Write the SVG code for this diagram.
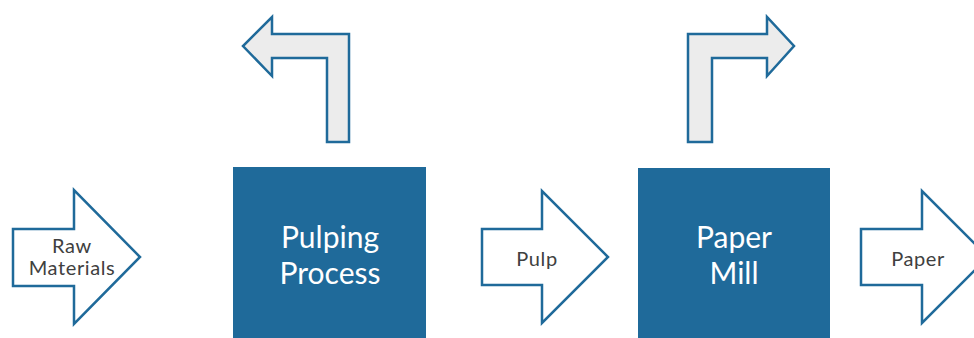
<svg xmlns="http://www.w3.org/2000/svg" width="974" height="338" viewBox="0 0 974 338">
<style>
.flow{fill:#ffffff;stroke:#1f6a9a;stroke-width:2.5;stroke-linejoin:miter}
.side{fill:#ececec;stroke:#1f6a9a;stroke-width:2.5;stroke-linejoin:miter}
.box{fill:#1f6a9a}
.lbl{font-family:Lato,"Open Sans",sans-serif;font-size:20px;letter-spacing:0.6px;fill:#404040;text-anchor:middle}
.big{font-family:Lato,"Open Sans",sans-serif;font-size:30px;fill:#ffffff;text-anchor:middle}
</style>
<rect width="974" height="338" fill="#ffffff"/>
<g id="connectors">
<g id="raw-materials">
<polygon class="flow" points="13,229 74,229 74,190 140,257 74,324 74,286 13,286"/>
<text class="lbl" x="72" y="253">Raw</text>
<text class="lbl" x="72" y="275">Materials</text>
</g>
<g id="pulp">
<polygon class="flow" points="482,229 542,229 542,191 608,257 542,323 542,285 482,285"/>
<text class="lbl" x="537" y="266">Pulp</text>
</g>
<g id="paper">
<polygon class="flow" points="861,229 922,229 922,191 988,257 922,323 922,285 861,285"/>
<text class="lbl" x="918" y="266">Paper</text>
</g>
<g id="out-left">
<polygon class="side" points="327,142 349,142 349,34 272,34 272,17 243,46 272,76 272,58 327,58"/>
</g>
<g id="out-right">
<polygon class="side" points="712,142 688,142 688,34 767,34 767,17 794,46 767,76 767,58 712,58"/>
</g>
</g>
<g id="pulping-process">
<rect class="box" x="233" y="167" width="193" height="171"/>
<text class="big" x="330" y="248">Pulping</text>
<text class="big" x="330" y="284">Process</text>
</g>
<g id="paper-mill">
<rect class="box" x="638" y="168" width="192" height="170"/>
<text class="big" x="734" y="248">Paper</text>
<text class="big" x="734" y="284">Mill</text>
</g>
</svg>
